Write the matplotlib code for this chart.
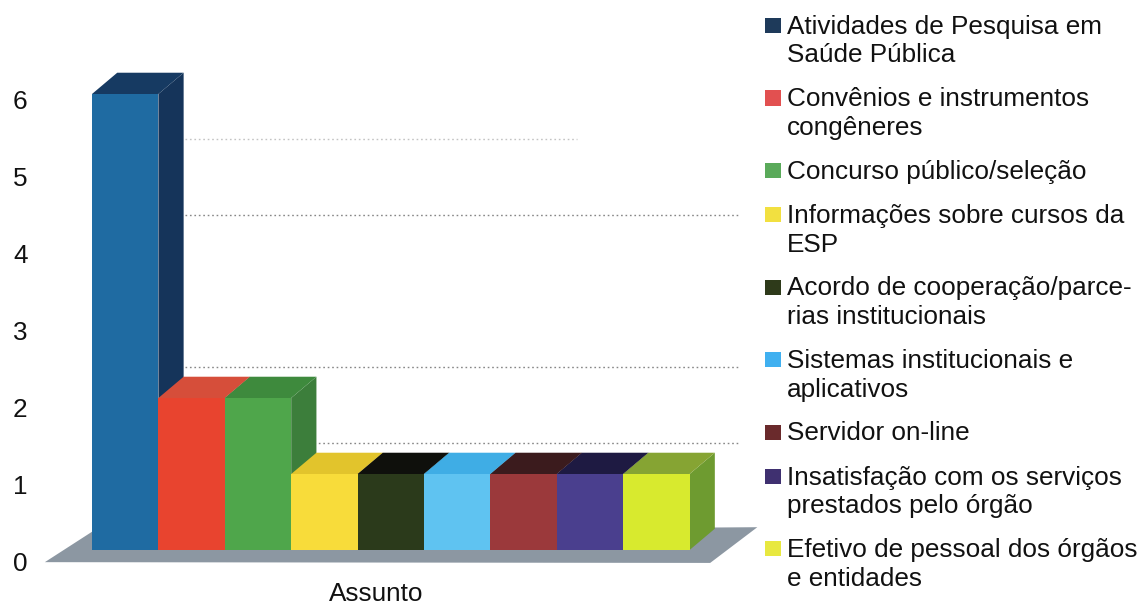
import matplotlib
matplotlib.use("Agg")
import matplotlib.pyplot as plt
from matplotlib.patches import Polygon, Rectangle

plt.rcParams['font.family'] = ['Liberation Sans', 'DejaVu Sans']

# ---- data ----
categories = [
    "Atividades de Pesquisa em\nSaúde Pública",
    "Convênios e instrumentos\ncongêneres",
    "Concurso público/seleção",
    "Informações sobre cursos da\nESP",
    "Acordo de cooperação/parce-\nrias institucionais",
    "Sistemas institucionais e\naplicativos",
    "Servidor on-line",
    "Insatisfação com os serviços\nprestados pelo órgão",
    "Efetivo de pessoal dos órgãos\ne entidades",
]
values = [6, 2, 2, 1, 1, 1, 1, 1, 1]
yticks = [0, 1, 2, 3, 4, 5, 6]
xlabel = "Assunto"

front_colors = ['#1f6ba2', '#e8442f', '#4fa64b', '#f8dc3a', '#2b3a1b',
                '#5fc3f1', '#9b393b', '#4a3f8e', '#d8ea2e']
top_colors = ['#163a62', '#d64e3a', '#3e8a3d', '#e2c42c', '#0f100c',
              '#3fade5', '#3b1b1d', '#1e1a42', '#86a433']
side_colors = ['#15345a', '#c4483a', '#3c7e3b', '#d6b929', '#1a2310',
               '#38a0d8', '#5a2325', '#2b2460', '#6e9b30']
legend_colors = ['#1e3a5a', '#e25050', '#5aaa5a', '#f2e040', '#2e3a1a',
                 '#40b0f0', '#6a2a2c', '#3f3070', '#e8e840']

FS = 18.8

# ---- figure ----
W, H, DPI = 1141, 607, 100
fig = plt.figure(figsize=(W / DPI, H / DPI), dpi=DPI)
ax = fig.add_axes([0, 0, 1, 1])
PX, PY = 66.4, 76.0      # pixels per data unit
X0, Y0 = 92, 550         # pixel position of data origin
ax.set_xlim((0 - X0) / PX, (W - X0) / PX)
ax.set_ylim((Y0 - H) / PY, Y0 / PY)
ax.axis('off')

# floor
fdx, fdy = 0.71, 0.40
floor = Polygon([(-fdx, -0.16), (len(values) + 0.31, -0.17),
                 (len(values) + 0.31 + fdx, -0.17 + fdy + 0.07), (0, 0.24)],
                closed=True, facecolor='#8c97a2', edgecolor='none', zorder=1)
ax.add_patch(floor)

# back-wall gridlines (dotted)
bdx, bdy = 0.68, 0.41
for g in [1, 2, 4, 5]:
    x_start = 1.4
    x_end = len(values) + 0.76 if g != 5 else 7.3
    ax.plot([x_start, x_end], [g + bdy, g + bdy],
            ls=(0, (1.2, 2.0)), color='#7a7a7a', lw=1.0,
            alpha=0.45 if g == 5 else 0.9, zorder=2)

# bars (pseudo 3-D)
dx, dy = 0.38, 0.28
w = 1.0
for i, v in enumerate(values):
    z = 10 + i
    x = i
    side = Polygon([(x + w, 0), (x + w + dx, dy), (x + w + dx, v + dy), (x + w, v)],
                   closed=True, facecolor=side_colors[i], edgecolor='none', zorder=z)
    top = Polygon([(x, v), (x + w, v), (x + w + dx, v + dy), (x + dx, v + dy)],
                  closed=True, facecolor=top_colors[i], edgecolor='none', zorder=z)
    front = Rectangle((x, 0), w, v, facecolor=front_colors[i], edgecolor='none', zorder=z + 0.5)
    ax.add_patch(side)
    ax.add_patch(top)
    ax.add_patch(front)

# y tick labels
for t in yticks:
    ax.text(-1.08, t * 1.015 - 0.19, str(t), ha='center', va='center',
            fontsize=FS, color='#111111')

# x label
ax.text(4.28, -0.58, xlabel, ha='center', va='center', fontsize=FS, color='#111111')

# legend
line_gap = 28.5
entry_gap = 44
y = 34  # baseline of first line
for i, lab in enumerate(categories):
    lines = lab.split('\n')
    fig.patches.append(Rectangle((765 / W, 1 - (y - 1) / H), 16 / W, 15 / H,
                                 transform=fig.transFigure, facecolor=legend_colors[i],
                                 edgecolor='none'))
    for k, ln in enumerate(lines):
        fig.text(787 / W, 1 - (y + k * line_gap) / H, ln, ha='left', va='baseline',
                 fontsize=FS, color='#111111')
    y += (len(lines) - 1) * line_gap + entry_gap

fig.savefig('out.png', dpi=DPI)
